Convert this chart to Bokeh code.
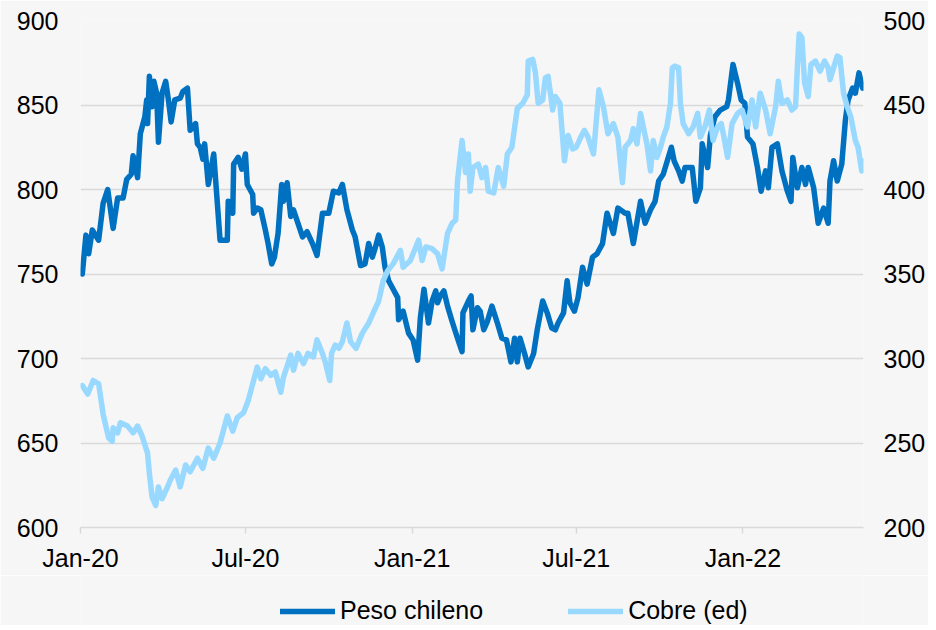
import pandas as pd
from datetime import datetime
from bokeh.plotting import figure
from bokeh.layouts import column
from bokeh.models import (ColumnDataSource, Range1d, LinearAxis, FixedTicker,
                          DatetimeTickFormatter, Legend, LegendItem)
from bokeh.embed import file_html
from bokeh.resources import INLINE

# ---------------- data ----------------
peso_dates = [
    "2020-01-03", "2020-01-07", "2020-01-10", "2020-01-14", "2020-01-21", "2020-01-26", "2020-01-31",
    "2020-02-06", "2020-02-11", "2020-02-17", "2020-02-21", "2020-02-26", "2020-02-28", "2020-03-04",
    "2020-03-07", "2020-03-12", "2020-03-14", "2020-03-15", "2020-03-17", "2020-03-20", "2020-03-22",
    "2020-03-25", "2020-03-27", "2020-03-31", "2020-04-04", "2020-04-07", "2020-04-10", "2020-04-14",
    "2020-04-20", "2020-04-23", "2020-04-28", "2020-05-01", "2020-05-07", "2020-05-09", "2020-05-12",
    "2020-05-15", "2020-05-17", "2020-05-21", "2020-05-27", "2020-06-03", "2020-06-11", "2020-06-12",
    "2020-06-17", "2020-06-18", "2020-06-23", "2020-06-27", "2020-07-01", "2020-07-03", "2020-07-09",
    "2020-07-10", "2020-07-14", "2020-07-18", "2020-07-23", "2020-07-26", "2020-07-30", "2020-08-02",
    "2020-08-06", "2020-08-10", "2020-08-12", "2020-08-16", "2020-08-20", "2020-08-23", "2020-08-28",
    "2020-09-02", "2020-09-07", "2020-09-13", "2020-09-18", "2020-09-24", "2020-10-01", "2020-10-06",
    "2020-10-12", "2020-10-16", "2020-10-21", "2020-10-27", "2020-10-30", "2020-11-05", "2020-11-10",
    "2020-11-14", "2020-11-18", "2020-11-21", "2020-11-25", "2020-11-29", "2020-12-02", "2020-12-06",
    "2020-12-10", "2020-12-16", "2020-12-17", "2020-12-22", "2020-12-28", "2021-01-02", "2021-01-07",
    "2021-01-10", "2021-01-14", "2021-01-19", "2021-01-23", "2021-01-27", "2021-01-29", "2021-02-01",
    "2021-02-05", "2021-02-09", "2021-02-14", "2021-02-20", "2021-02-25", "2021-02-26", "2021-03-04",
    "2021-03-07", "2021-03-09", "2021-03-14", "2021-03-17", "2021-03-21", "2021-03-25", "2021-03-30",
    "2021-04-05", "2021-04-10", "2021-04-15", "2021-04-20", "2021-04-24", "2021-04-27", "2021-04-30",
    "2021-05-05", "2021-05-09", "2021-05-15", "2021-05-19", "2021-05-25", "2021-05-30", "2021-06-04",
    "2021-06-08", "2021-06-11", "2021-06-17", "2021-06-21", "2021-06-24", "2021-06-29", "2021-07-03",
    "2021-07-08", "2021-07-13", "2021-07-19", "2021-07-24", "2021-07-30", "2021-08-04", "2021-08-11",
    "2021-08-16", "2021-08-24", "2021-08-27", "2021-09-02", "2021-09-10", "2021-09-15", "2021-09-21",
    "2021-09-26", "2021-09-30", "2021-10-05", "2021-10-14", "2021-10-17", "2021-10-22", "2021-10-26",
    "2021-10-29", "2021-11-06", "2021-11-10", "2021-11-15", "2021-11-17", "2021-11-23", "2021-11-26",
    "2021-12-01", "2021-12-07", "2021-12-14", "2021-12-16", "2021-12-21", "2021-12-26", "2021-12-30",
    "2022-01-03", "2022-01-06", "2022-01-12", "2022-01-17", "2022-01-21", "2022-01-26", "2022-01-29",
    "2022-02-02", "2022-02-08", "2022-02-13", "2022-02-19", "2022-02-23", "2022-02-25", "2022-03-02",
    "2022-03-07", "2022-03-11", "2022-03-14", "2022-03-20", "2022-03-25", "2022-03-31", "2022-04-05",
    "2022-04-07", "2022-04-11", "2022-04-15", "2022-04-20", "2022-04-24", "2022-04-27", "2022-05-02",
    "2022-05-05", "2022-05-09", "2022-05-13",
]
peso_values = [
    750, 773, 762, 776, 770, 792, 800,
    777, 795, 795, 806, 809, 820, 807,
    833, 843, 853, 839, 867, 849, 864,
    857, 828, 857, 864, 853, 840, 853,
    854, 858, 860, 835, 839, 827, 825,
    818, 827, 803, 821, 770, 770, 793,
    786, 815, 819, 812, 821, 803, 797,
    786, 789, 788, 776, 768, 756, 760,
    774, 803, 793, 804, 784, 788, 780,
    772, 775, 768, 761, 786, 786, 799,
    798, 803, 788, 776, 772, 755, 756,
    768, 760, 765, 773, 766, 754, 746,
    742, 736, 723, 728, 715, 711, 699,
    724, 741, 721, 734, 740, 733, 737,
    740, 731, 722, 712, 704, 727, 734,
    737, 717, 730, 728, 717, 722, 731,
    721, 712, 711, 698, 712, 698, 712,
    703, 695, 703, 717, 734, 727, 718,
    717, 721, 727, 746, 733, 728, 736,
    754, 744, 760, 762, 768, 786, 774,
    789, 786, 786, 768, 793, 780, 788,
    793, 805, 809, 825, 817, 811, 805,
    813, 813, 793, 801, 827, 813, 832,
    843, 847, 849, 853, 874, 863, 853,
    851, 831, 827, 813, 799, 811, 801,
    825, 827, 811, 799, 793, 819, 801,
    813, 803, 813, 801, 780, 789, 780,
    805, 817, 805, 815, 841, 853, 860,
    857, 869, 860,
]

cobre_dates = [
    "2020-01-03", "2020-01-09", "2020-01-15", "2020-01-21", "2020-01-26", "2020-02-01", "2020-02-05",
    "2020-02-06", "2020-02-11", "2020-02-14", "2020-02-22", "2020-02-28", "2020-03-04", "2020-03-09",
    "2020-03-15", "2020-03-17", "2020-03-20", "2020-03-24", "2020-03-27", "2020-03-31", "2020-04-06",
    "2020-04-09", "2020-04-15", "2020-04-20", "2020-04-26", "2020-05-01", "2020-05-09", "2020-05-15",
    "2020-05-21", "2020-05-27", "2020-06-03", "2020-06-11", "2020-06-17", "2020-06-22", "2020-06-29",
    "2020-07-04", "2020-07-10", "2020-07-14", "2020-07-18", "2020-07-23", "2020-07-29", "2020-08-03",
    "2020-08-09", "2020-08-12", "2020-08-20", "2020-08-23", "2020-08-28", "2020-09-03", "2020-09-08",
    "2020-09-14", "2020-09-18", "2020-09-24", "2020-09-27", "2020-10-02", "2020-10-04", "2020-10-08",
    "2020-10-12", "2020-10-16", "2020-10-21", "2020-10-25", "2020-10-31", "2020-11-07", "2020-11-14",
    "2020-11-19", "2020-11-25", "2020-11-30", "2020-12-05", "2020-12-11", "2020-12-19", "2020-12-22",
    "2020-12-30", "2021-01-05", "2021-01-08", "2021-01-12", "2021-01-16", "2021-01-23", "2021-01-29",
    "2021-02-03", "2021-02-09", "2021-02-14", "2021-02-18", "2021-02-20", "2021-02-25", "2021-03-01",
    "2021-03-04", "2021-03-06", "2021-03-09", "2021-03-15", "2021-03-19", "2021-03-23", "2021-03-26",
    "2021-04-01", "2021-04-06", "2021-04-12", "2021-04-16", "2021-04-21", "2021-04-27", "2021-05-03",
    "2021-05-08", "2021-05-09", "2021-05-14", "2021-05-17", "2021-05-20", "2021-05-25", "2021-05-28",
    "2021-05-31", "2021-06-05", "2021-06-08", "2021-06-13", "2021-06-18", "2021-06-22", "2021-06-27",
    "2021-07-01", "2021-07-06", "2021-07-10", "2021-07-14", "2021-07-20", "2021-07-22", "2021-07-26",
    "2021-07-31", "2021-08-05", "2021-08-11", "2021-08-16", "2021-08-21", "2021-08-24", "2021-08-30",
    "2021-09-02", "2021-09-06", "2021-09-10", "2021-09-13", "2021-09-17", "2021-09-21", "2021-09-24",
    "2021-09-28", "2021-10-02", "2021-10-05", "2021-10-09", "2021-10-13", "2021-10-15", "2021-10-18",
    "2021-10-22", "2021-10-24", "2021-10-27", "2021-11-02", "2021-11-07", "2021-11-12", "2021-11-15",
    "2021-11-20", "2021-11-25", "2021-11-29", "2021-12-04", "2021-12-08", "2021-12-11", "2021-12-15",
    "2021-12-20", "2021-12-26", "2021-12-31", "2022-01-06", "2022-01-11", "2022-01-15", "2022-01-20",
    "2022-01-26", "2022-01-31", "2022-02-06", "2022-02-09", "2022-02-13", "2022-02-19", "2022-02-24",
    "2022-02-28", "2022-03-02", "2022-03-04", "2022-03-07", "2022-03-10", "2022-03-14", "2022-03-17",
    "2022-03-22", "2022-03-27", "2022-04-01", "2022-04-05", "2022-04-07", "2022-04-11", "2022-04-15",
    "2022-04-18", "2022-04-22", "2022-04-26", "2022-04-30", "2022-05-05", "2022-05-08", "2022-05-12",
    "2022-05-15",
]
cobre_values = [
    284, 279, 287, 285, 267, 253, 251,
    259, 256, 262, 260, 256, 260, 254,
    244, 232, 218, 213, 224, 217, 224,
    228, 234, 224, 237, 233, 241, 235,
    247, 241, 250, 266, 257, 265, 268,
    275, 287, 295, 288, 294, 290, 292,
    280, 289, 302, 293, 303, 297, 303,
    301, 311, 303, 298, 287, 303, 308,
    306, 310, 321, 310, 306, 315, 321,
    327, 334, 346, 352, 356, 364, 354,
    358, 366, 370, 358, 366, 365, 362,
    353, 374, 380, 382, 405, 429, 410,
    421, 399, 413, 415, 407, 413, 399,
    398, 413, 402, 421, 425, 448, 451,
    456, 476, 477, 469, 451, 453, 466,
    467, 447, 455, 451, 417, 432, 424,
    425, 431, 435, 431, 421, 433, 459,
    449, 433, 439, 431, 404, 425, 429,
    436, 427, 445, 437, 427, 411, 429,
    419, 425, 431, 437, 451, 472, 473,
    472, 451, 439, 433, 437, 445, 431,
    437, 447, 429, 437, 439, 431, 419,
    439, 445, 447, 437, 453, 437, 457,
    447, 433, 449, 464, 451, 453, 447,
    449, 472, 492, 490, 463, 455, 474,
    476, 470, 476, 472, 465, 472, 479,
    478, 457, 449, 443, 429, 425, 411,
    417,
]

x_tick_dates = ["2020-01-01", "2020-07-01", "2021-01-01", "2021-07-01", "2022-01-01"]
left_ticks = [600, 650, 700, 750, 800, 850, 900]
right_ticks = [200, 250, 300, 350, 400, 450, 500]
series_names = ["Peso chileno", "Cobre (ed)"]

# ---------------- styling ----------------
DARK = "#0070C0"
LIGHT = "#99D9FF"
BG = "#F6F6F6"
GRID = "#D9D9D9"
FONT = "Liberation Sans"
FS = "25px"
W = 928

peso_src = ColumnDataSource(dict(x=pd.to_datetime(peso_dates), y=peso_values))
cobre_src = ColumnDataSource(dict(x=pd.to_datetime(cobre_dates), y=cobre_values))

p = figure(width=W, height=575, output_backend="svg", toolbar_location=None,
           x_axis_type="datetime",
           x_range=Range1d(datetime(2020, 1, 1), datetime(2022, 5, 14)),
           y_range=Range1d(600, 900),
           min_border_left=80, min_border_right=65, min_border_top=20, min_border_bottom=48)
p.extra_y_ranges = {"cu": Range1d(200, 500)}

p.background_fill_color = BG
p.border_fill_color = BG
p.outline_line_color = None

# grid
p.xgrid.grid_line_color = None
p.ygrid.grid_line_color = GRID
p.ygrid.grid_line_width = 1.5

# x axis
xa = p.xaxis[0]
xa.ticker = FixedTicker(ticks=[pd.Timestamp(d).value / 1e6 for d in x_tick_dates])
fmt = "%b-%y"
xa.formatter = DatetimeTickFormatter(milliseconds=fmt, seconds=fmt, minsec=fmt, minutes=fmt,
                                     hourmin=fmt, hours=fmt, days=fmt, months=fmt, years=fmt)
xa.axis_line_color = GRID
xa.axis_line_width = 1.5
xa.major_tick_line_color = GRID
xa.major_tick_line_width = 1.5
xa.major_tick_out = 6
xa.major_tick_in = 0
xa.minor_tick_line_color = None
xa.major_label_standoff = 10
xa.major_label_text_font = FONT
xa.major_label_text_font_size = FS
xa.major_label_text_color = "#000000"

# left axis
ya = p.yaxis[0]
ya.ticker = FixedTicker(ticks=left_ticks)
ya.axis_line_color = None
ya.major_tick_line_color = None
ya.minor_tick_line_color = None
ya.major_tick_out = 0
ya.major_tick_in = 0
ya.major_label_standoff = 22
ya.major_label_text_font = FONT
ya.major_label_text_font_size = FS
ya.major_label_text_color = "#000000"

# right axis
ra = LinearAxis(y_range_name="cu", ticker=FixedTicker(ticks=right_ticks))
ra.axis_line_color = None
ra.major_tick_line_color = None
ra.minor_tick_line_color = None
ra.major_tick_out = 0
ra.major_tick_in = 0
ra.major_label_standoff = 20
ra.major_label_text_font = FONT
ra.major_label_text_font_size = FS
ra.major_label_text_color = "#000000"
p.add_layout(ra, "right")

# lines
p.line("x", "y", source=peso_src, line_color=DARK, line_width=5.5,
       line_join="round", line_cap="round")
p.line("x", "y", source=cobre_src, y_range_name="cu", line_color=LIGHT,
       line_width=5.5, line_join="round", line_cap="round")

# ---------------- legend strip below the chart ----------------
lg = figure(width=W, height=50, output_backend="svg", toolbar_location=None,
            x_range=Range1d(0, 1), y_range=Range1d(0, 1),
            x_axis_location=None, y_axis_location=None,
            min_border_left=80, min_border_right=65, min_border_top=0, min_border_bottom=0)
lg.background_fill_color = BG
lg.border_fill_color = BG
lg.outline_line_color = None
lg.grid.visible = False
nan = float("nan")
k_peso = lg.line(x=[nan], y=[nan], line_color=DARK, line_width=5.5, line_cap="round")
k_cobre = lg.line(x=[nan], y=[nan], line_color=LIGHT, line_width=5.5, line_cap="round")

legend = Legend(items=[LegendItem(label=series_names[0], renderers=[k_peso]),
                       LegendItem(label=series_names[1], renderers=[k_cobre])],
                location=(200, 0), orientation="horizontal",
                glyph_width=55, glyph_height=28, label_standoff=5, spacing=85,
                padding=0, margin=0,
                label_text_font=FONT, label_text_font_size=FS, label_text_color="#000000",
                border_line_color=None, background_fill_alpha=0)
lg.add_layout(legend, "center")

open("out.html", "w").write(file_html(column(p, lg, spacing=0), INLINE))
